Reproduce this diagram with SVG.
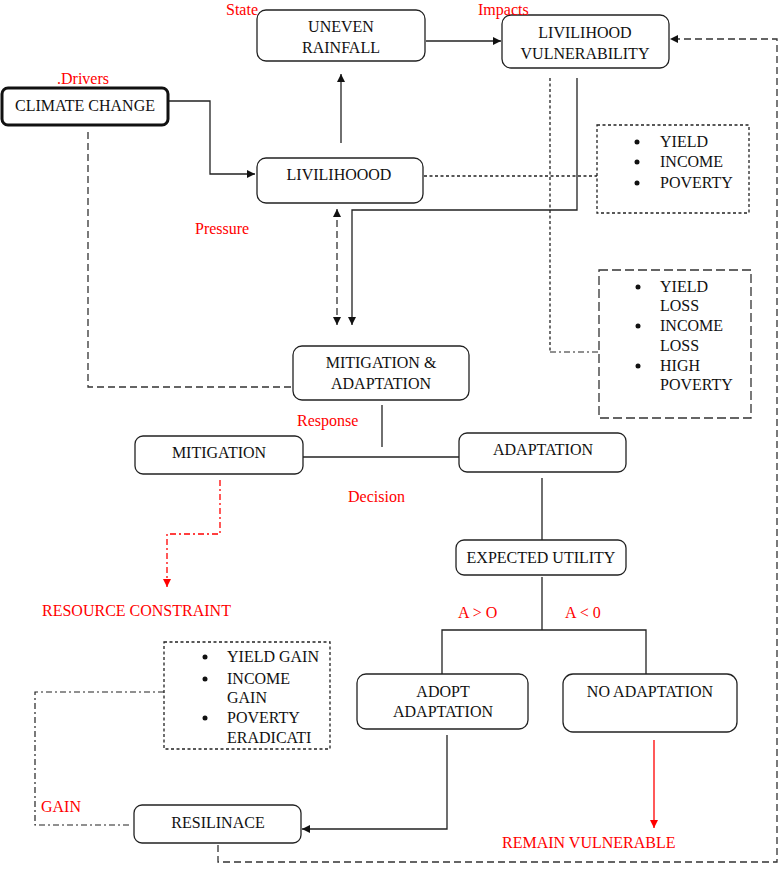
<svg xmlns="http://www.w3.org/2000/svg" width="780" height="869" viewBox="0 0 780 869">
<defs>
<style>
.box{fill:#fff;stroke:#222;stroke-width:1.3}
.t{font-family:"Liberation Serif","Times New Roman",serif;font-size:16px;fill:#111;text-anchor:middle}
.tl{font-family:"Liberation Serif","Times New Roman",serif;font-size:16px;fill:#111}
.r{font-family:"Liberation Serif","Times New Roman",serif;font-size:16px;fill:#f00}
.ln{fill:none;stroke:#222;stroke-width:1.3}
.dash{fill:none;stroke:#333;stroke-width:1.3;stroke-dasharray:7 4}
.dot{fill:none;stroke:#222;stroke-width:1.3;stroke-dasharray:3 2.5}
.dd{fill:none;stroke:#222;stroke-width:1.2;stroke-dasharray:6 3 2 3}
.ldash{fill:none;stroke:#333;stroke-width:1.3;stroke-dasharray:9 4}
</style>
<marker id="ah" viewBox="0 0 10 10" refX="10" refY="5" markerWidth="8" markerHeight="8" markerUnits="userSpaceOnUse" orient="auto-start-reverse"><path d="M0,0 L10,5 L0,10 z" fill="#111"/></marker>
<marker id="ahr" viewBox="0 0 10 10" refX="10" refY="5" markerWidth="8" markerHeight="8" markerUnits="userSpaceOnUse" orient="auto"><path d="M0,0 L10,5 L0,10 z" fill="#f00"/></marker>
</defs>

<g id="connectors">
<path class="ln" d="M426,41 H501" marker-end="url(#ah)"/>
<path class="ln" d="M169,101 H210 V174 H255" marker-end="url(#ah)"/>
<path class="ln" d="M341,143 V74" marker-end="url(#ah)"/>
<path class="ln" d="M577,78 V210 H352 V325" marker-end="url(#ah)"/>
<path class="dash" d="M337,209 V325" marker-start="url(#ah)" marker-end="url(#ah)"/>
<path class="dot" d="M424,176 H597"/>
<path class="dot" d="M550,78 V352"/>
<path class="dd" d="M550,352 H598"/>
<path class="dash" d="M88,132 V387 H294"/>
<path class="ln" d="M382,405 V447"/>
<path class="ln" d="M303,457 H459"/>
<path d="M220,480 V534 H167 V587" fill="none" stroke="#f00" stroke-width="1.3" stroke-dasharray="6 3 2 3" marker-end="url(#ahr)"/>
<path class="ln" d="M542,478 V540"/>
<path class="ln" d="M542,577 V630"/>
<path class="ln" d="M442,674 V630 H646 V674"/>
<path d="M654,740 V828" fill="none" stroke="#f00" stroke-width="1.3" marker-end="url(#ahr)"/>
<path class="ln" d="M447,735 V829 H302" marker-end="url(#ah)"/>
<path class="dd" d="M164,692 H35 V825 H132"/>
<path class="dash" d="M218,845 V862 H777 V39 H670" marker-end="url(#ah)"/>
</g>

<g id="climate-change">
<rect x="2" y="88" width="166" height="37" rx="6" fill="#fff" stroke="#111" stroke-width="3"/>
<text class="t" x="85" y="111">CLIMATE CHANGE</text>
<text class="r" x="57" y="84">.Drivers</text>
</g>

<g id="uneven-rainfall">
<rect class="box" x="257" y="10" width="168" height="51" rx="9"/>
<text class="t" x="341" y="32">UNEVEN</text>
<text class="t" x="341" y="53">RAINFALL</text>
<text class="r" x="226" y="15">State</text>
</g>

<g id="livelihood-vulnerability">
<rect class="box" x="502" y="15" width="167" height="53" rx="9"/>
<text class="t" x="585" y="38">LIVILIHOOD</text>
<text class="t" x="585" y="59">VULNERABILITY</text>
<text class="r" x="478" y="15">Impacts</text>
</g>

<g id="livelihood">
<rect class="box" x="257" y="158" width="166" height="45" rx="9"/>
<text class="t" x="339" y="180">LIVILIHOOOD</text>
<text class="r" x="195" y="234">Pressure</text>
</g>

<g id="impact-list">
<rect class="dot" x="597" y="125" width="152" height="88"/>
<circle cx="637" cy="142" r="2.5" fill="#111"/>
<circle cx="637" cy="162" r="2.5" fill="#111"/>
<circle cx="637" cy="183" r="2.5" fill="#111"/>
<text class="tl" x="660" y="147">YIELD</text>
<text class="tl" x="660" y="167">INCOME</text>
<text class="tl" x="660" y="188">POVERTY</text>
</g>

<g id="loss-list">
<rect class="ldash" x="599" y="270" width="152" height="148"/>
<circle cx="638" cy="287" r="2.5" fill="#111"/>
<circle cx="638" cy="326" r="2.5" fill="#111"/>
<circle cx="638" cy="366" r="2.5" fill="#111"/>
<text class="tl" x="660" y="292">YIELD</text>
<text class="tl" x="660" y="311">LOSS</text>
<text class="tl" x="660" y="331">INCOME</text>
<text class="tl" x="660" y="351">LOSS</text>
<text class="tl" x="660" y="371">HIGH</text>
<text class="tl" x="660" y="390">POVERTY</text>
</g>

<g id="mitigation-adaptation">
<rect class="box" x="293" y="346" width="176" height="54" rx="9"/>
<text class="t" x="381" y="368">MITIGATION &amp;</text>
<text class="t" x="381" y="389">ADAPTATION</text>
<text class="r" x="297" y="426">Response</text>
</g>

<g id="mitigation">
<rect class="box" x="135" y="436" width="168" height="38" rx="8"/>
<text class="t" x="219" y="458">MITIGATION</text>
<text class="r" x="348" y="502">Decision</text>
</g>

<g id="resource-constraint">
<text class="r" x="42" y="616">RESOURCE CONSTRAINT</text>
</g>

<g id="adaptation">
<rect class="box" x="459" y="433" width="167" height="39" rx="8"/>
<text class="t" x="543" y="455">ADAPTATION</text>
</g>

<g id="expected-utility">
<rect class="box" x="456" y="540" width="170" height="35" rx="8"/>
<text class="t" x="541" y="563">EXPECTED UTILITY</text>
<text class="r" x="458" y="618">A &gt; O</text>
<text class="r" x="565" y="618">A &lt; 0</text>
</g>

<g id="adopt-adaptation">
<rect class="box" x="357" y="674" width="171" height="55" rx="9"/>
<text class="t" x="443" y="697">ADOPT</text>
<text class="t" x="443" y="717">ADAPTATION</text>
</g>

<g id="no-adaptation">
<rect class="box" x="563" y="674" width="174" height="58" rx="10"/>
<text class="t" x="650" y="697">NO ADAPTATION</text>
</g>

<g id="remain-vulnerable">
<text class="r" x="502" y="848">REMAIN VULNERABLE</text>
</g>

<g id="gain-list">
<rect class="dot" x="164" y="642" width="166" height="107"/>
<circle cx="205" cy="657" r="2.5" fill="#111"/>
<circle cx="205" cy="679" r="2.5" fill="#111"/>
<circle cx="205" cy="718" r="2.5" fill="#111"/>
<text class="tl" x="227" y="662">YIELD GAIN</text>
<text class="tl" x="227" y="684">INCOME</text>
<text class="tl" x="227" y="703">GAIN</text>
<text class="tl" x="227" y="723">POVERTY</text>
<text class="tl" x="227" y="743">ERADICATI</text>
</g>

<g id="resilience">
<rect class="box" x="134" y="805" width="167" height="38" rx="8"/>
<text class="t" x="218" y="828">RESILINACE</text>
<text class="r" x="41" y="812">GAIN</text>
</g>
</svg>
